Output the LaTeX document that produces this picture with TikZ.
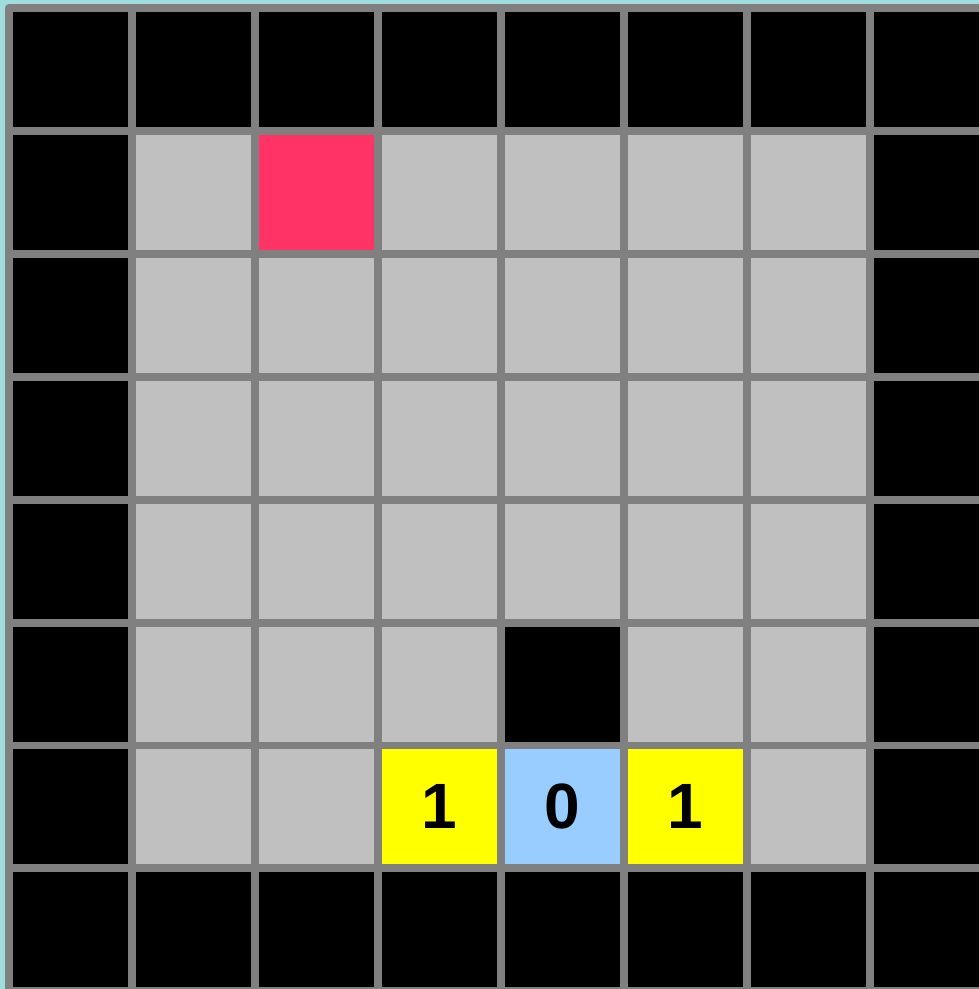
\documentclass[tikz,border=0pt]{standalone}
\usepackage{fontspec}
\setmainfont{Liberation Sans}
\definecolor{bgteal}{RGB}{160,220,220}
\definecolor{gridgray}{RGB}{128,128,128}
\definecolor{cK}{RGB}{0,0,0}
\definecolor{cG}{RGB}{192,192,192}
\definecolor{cR}{RGB}{255,51,102}
\definecolor{cY}{RGB}{255,255,0}
\definecolor{cB}{RGB}{153,204,255}
\begin{document}
\begin{tikzpicture}[x=1pt,y=-1pt,
  cellbox/.style={rectangle,draw=none,minimum width=115pt,minimum height=115pt,inner sep=0pt,outer sep=0pt},
  digit/.style={text=black,font=\fontsize{64}{64}\selectfont\bfseries,inner sep=0pt}]
\useasboundingbox (0,0) rectangle (979,989);
\clip (0,0) rectangle (979,989);
\fill[bgteal] (0,0) rectangle (979,989);
\fill[gridgray,rounded corners=4pt] (5,4) rectangle (1020,1020);
\foreach \r/\row in {
  0/{K,K,K,K,K,K,K,K},
  1/{K,G,R,G,G,G,G,K},
  2/{K,G,G,G,G,G,G,K},
  3/{K,G,G,G,G,G,G,K},
  4/{K,G,G,G,G,G,G,K},
  5/{K,G,G,G,K,G,G,K},
  6/{K,G,G,Y,B,Y,G,K},
  7/{K,K,K,K,K,K,K,K}}{
  \foreach \cc [count=\c from 0] in \row {
    \node[cellbox,fill=c\cc] (cell-\r-\c) at ({13+123*\c+57.5},{12+122.9*\r+57.5}) {};
  }
}
\node[digit] (d1) at (cell-6-3) {1};
\node[digit] (d0) at (cell-6-4) {0};
\node[digit] (d2) at (cell-6-5) {1};
\end{tikzpicture}
\end{document}
